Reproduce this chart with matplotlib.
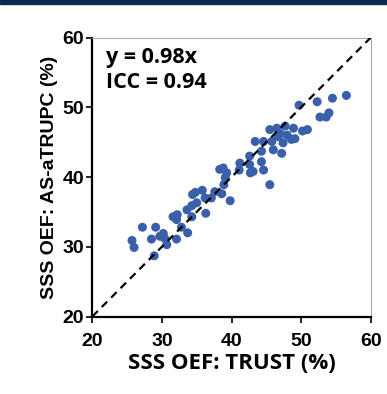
import numpy as np
import matplotlib.pyplot as plt
from matplotlib.patches import Rectangle

# SSS OEF: TRUST vs AS-aTRUPC
trust = [56.5, 54.5, 52.3, 49.7, 54.0, 52.7, 53.6, 50.9, 50.2, 48.9,
         47.7, 46.5, 45.5, 46.7, 49.1, 48.6, 47.4, 45.8, 44.6, 43.4,
         46.0, 47.2, 44.3, 42.6, 44.3, 41.2, 42.6, 44.6, 43.1, 38.8,
         38.3, 39.3, 41.1, 42.7, 45.5, 39.1, 38.9, 37.6, 38.6, 37.1,
         35.8, 34.8, 34.4, 36.2, 39.8, 35.0, 34.3, 33.6, 36.3, 34.3,
         31.6, 32.2, 32.1, 32.8, 33.7, 27.2, 29.1, 30.2, 29.7, 28.5,
         30.4, 32.1, 30.7, 25.7, 26.0, 28.9, 47.0, 48.0]
atrupc = [51.7, 51.3, 50.8, 50.3, 49.2, 48.6, 48.6, 46.8, 46.6, 47.0,
          47.3, 47.0, 46.8, 45.8, 45.5, 45.4, 44.9, 45.1, 45.1, 45.1,
          43.9, 43.4, 43.7, 43.0, 42.2, 42.0, 41.8, 41.0, 40.8, 41.3,
          41.1, 40.6, 41.0, 40.6, 38.9, 39.9, 38.9, 37.9, 37.6, 37.0,
          38.1, 37.8, 37.5, 37.0, 36.6, 36.3, 35.9, 35.3, 34.8, 34.3,
          34.3, 34.6, 33.9, 32.8, 32.0, 32.8, 32.8, 31.9, 31.5, 31.1,
          31.2, 31.1, 30.3, 30.9, 29.9, 28.7, 46.2, 46.0]
ticks = [20, 30, 40, 50, 60]

fig = plt.figure(figsize=(3.87, 3.94), dpi=100)
fig.patches.append(Rectangle((0, 0.99), 1, 0.01, transform=fig.transFigure,
                             color='#0B2A50', zorder=0))
ax = fig.add_axes([0.2385, 0.1967, 0.7195, 0.708])

ax.plot([20, 60], [20, 60], color='black', ls=(0, (3.5, 2.5)), lw=1.6, zorder=3)
ax.scatter(trust, atrupc, s=42, color='#3A60AB', edgecolors='none', zorder=2)

ax.set_xlim(20, 60)
ax.set_ylim(20, 60)
ax.set_xticks(ticks)
ax.set_yticks(ticks)
for lab in ax.get_xticklabels() + ax.get_yticklabels():
    lab.set_fontfamily('Liberation Sans')
    lab.set_fontweight('bold')
    lab.set_fontsize(14)
ax.tick_params(direction='out', length=4, width=1.2, pad=2)
ax.tick_params(axis='x', pad=8)

for s in ['left', 'bottom']:
    ax.spines[s].set_linewidth(1.6)
    ax.spines[s].set_color('black')
for s in ['top', 'right']:
    ax.spines[s].set_linewidth(0.8)
    ax.spines[s].set_color('#AAAAAA')

ax.set_xlabel('SSS OEF: TRUST (%)', fontfamily='Open Sans', fontweight='bold',
              fontsize=16, labelpad=2)
ax.set_ylabel('SSS OEF: AS-aTRUPC (%)', fontfamily='Liberation Sans',
              fontweight='bold', fontsize=14, labelpad=3)

ax.text(0.05, 0.965, 'y = 0.98x\nICC = 0.94', transform=ax.transAxes,
        fontfamily='Open Sans', fontweight='bold', fontsize=15.5,
        va='top', ha='left', linespacing=1.2)

fig.savefig('out.png', dpi=100)
